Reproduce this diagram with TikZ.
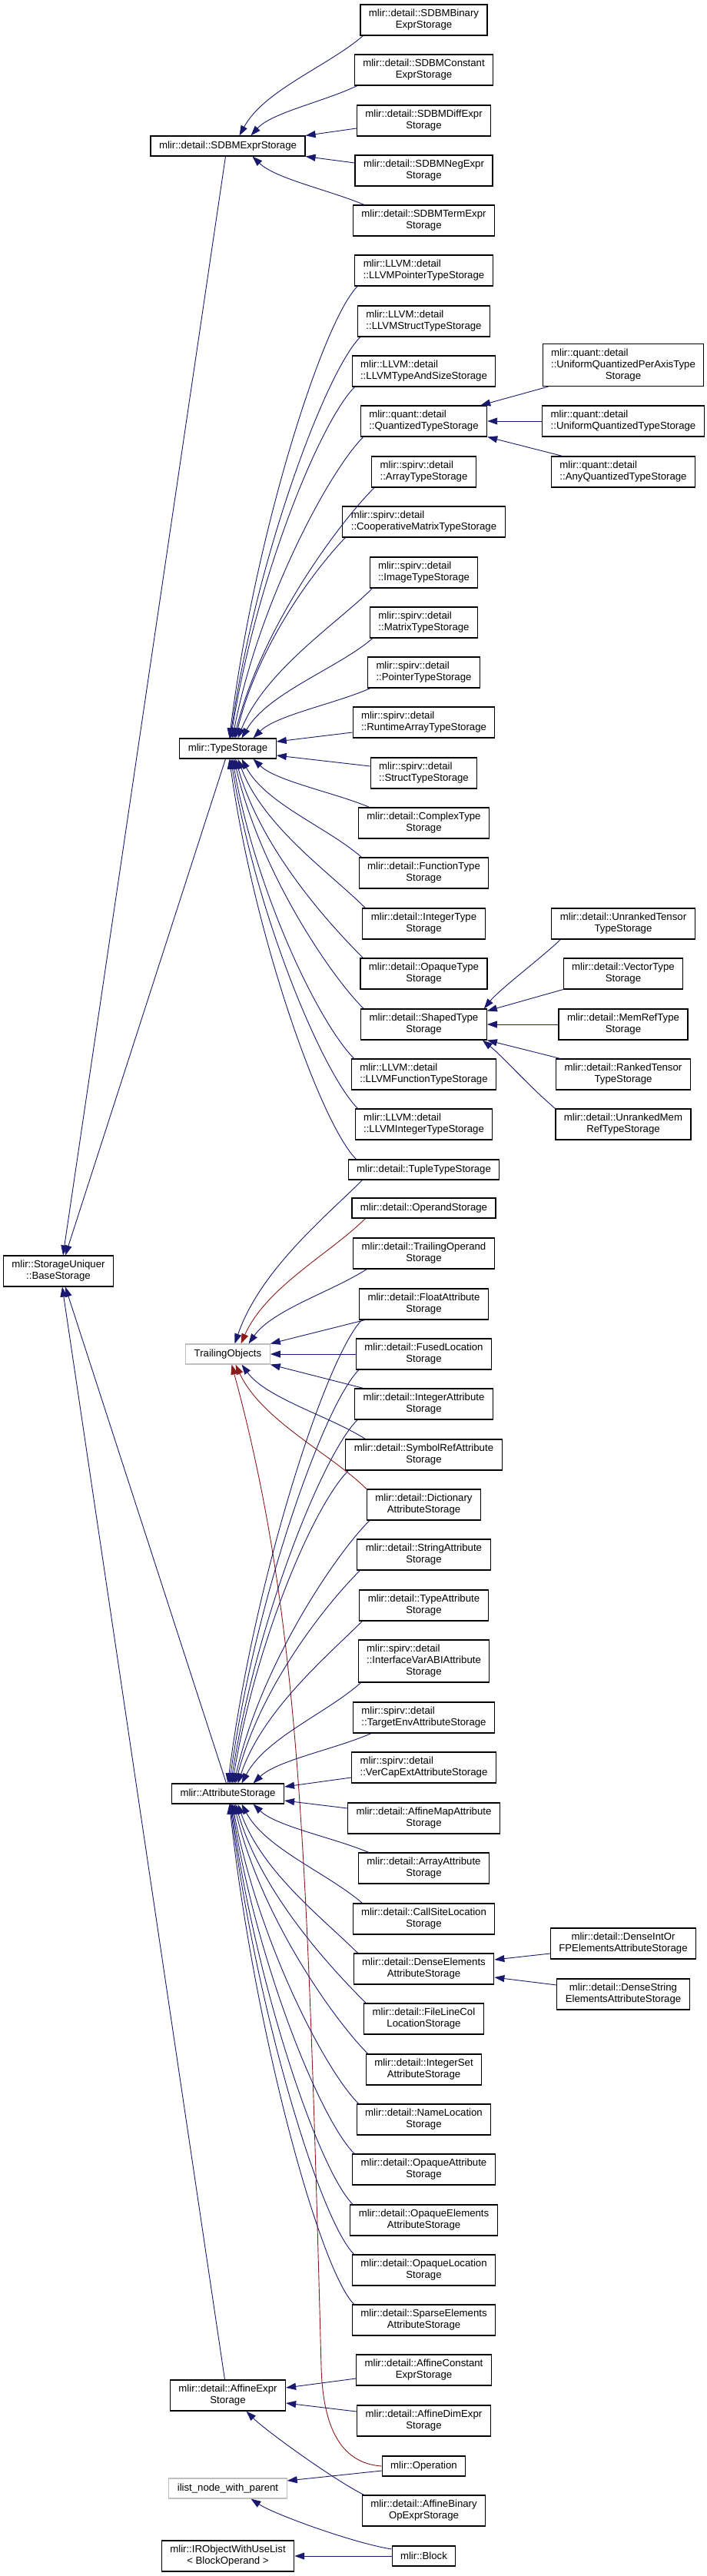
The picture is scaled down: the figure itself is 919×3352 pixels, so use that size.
\documentclass[tikz,border=0pt]{standalone}
\usepackage{fontspec}
\setmainfont{Liberation Sans}
\usepackage{calc}
\usetikzlibrary{arrows.meta}
\definecolor{edgeblue}{HTML}{191970}
\definecolor{edgered}{HTML}{8B1A1A}
\definecolor{extgray}{HTML}{BFBFBF}
\begin{document}
\begin{tikzpicture}[x=1pt,y=-1pt,
  nbox/.style={draw=black, fill=white, line width=1.1pt, inner xsep=11pt, inner ysep=3pt,
    font=\fontsize{13.2}{15}\selectfont, align=center},
  nb1/.style={nbox, minimum height=26pt},
  nb2/.style={nbox, minimum height=40pt},
  nb3/.style={nbox, minimum height=55pt},
  lft/.style={align=left},
  extbox/.style={draw=extgray},
  inh/.style={draw=edgeblue, line width=0.9pt, -{Triangle[length=13pt,width=9pt]}},
  priv/.style={inh, draw=edgered}]
\fill[white] (0,0) rectangle (919,3352);
\useasboundingbox (0,0) rectangle (919,3352);

% rank 0
\node[nb2] (base) at (76,1654) {mlir::StorageUniquer\\::BaseStorage};
% rank 1
\node[nb1] (sdbm) at (296.5,190) {mlir::detail::SDBMExprStorage};
\node[nb1] (ts) at (296.5,974) {mlir::TypeStorage};
\node[nb1,extbox] (tro) at (296.5,1762) {TrailingObjects};
\node[nb1] (as) at (296.5,2334) {mlir::AttributeStorage};
\node[nb2] (aes) at (296.5,3117) {mlir::detail::AffineExpr\\Storage};
\node[nb1,extbox] (ilist) at (296.5,3238) {ilist\_node\_with\_parent};
\node[nb2] (iro) at (296.5,3326) {mlir::IRObjectWithUseList\\< BlockOperand >};
% rank 2
\node[nb2] (sdbmbin) at (551.5,26) {mlir::detail::SDBMBinary\\ExprStorage};
\node[nb2] (sdbmconst) at (551.5,91) {mlir::detail::SDBMConstant\\ExprStorage};
\node[nb2] (sdbmdiff) at (551.5,157) {mlir::detail::SDBMDiffExpr\\Storage};
\node[nb2] (sdbmneg) at (551.5,222) {mlir::detail::SDBMNegExpr\\Storage};
\node[nb2] (sdbmterm) at (551.5,287) {mlir::detail::SDBMTermExpr\\Storage};
\node[nb2,lft] (llvmptr) at (551.5,352) {mlir::LLVM::detail\\::LLVMPointerTypeStorage};
\node[nb2,lft] (llvmstruct) at (551.5,418) {mlir::LLVM::detail\\::LLVMStructTypeStorage};
\node[nb2,lft] (llvmsize) at (551.5,483) {mlir::LLVM::detail\\::LLVMTypeAndSizeStorage};
\node[nb2,lft] (quant) at (551.5,548) {mlir::quant::detail\\::QuantizedTypeStorage};
\node[nb2,lft] (sarray) at (551.5,614) {mlir::spirv::detail\\::ArrayTypeStorage};
\node[nb2,lft] (scoop) at (551.5,679) {mlir::spirv::detail\\::CooperativeMatrixTypeStorage};
\node[nb2,lft] (simage) at (551.5,745) {mlir::spirv::detail\\::ImageTypeStorage};
\node[nb2,lft] (smatrix) at (551.5,810) {mlir::spirv::detail\\::MatrixTypeStorage};
\node[nb2,lft] (sptr) at (551.5,875) {mlir::spirv::detail\\::PointerTypeStorage};
\node[nb2,lft] (sruntime) at (551.5,940) {mlir::spirv::detail\\::RuntimeArrayTypeStorage};
\node[nb2,lft] (sstruct) at (551.5,1006) {mlir::spirv::detail\\::StructTypeStorage};
\node[nb2] (complex) at (551.5,1071) {mlir::detail::ComplexType\\Storage};
\node[nb2] (func) at (551.5,1136) {mlir::detail::FunctionType\\Storage};
\node[nb2] (intty) at (551.5,1202) {mlir::detail::IntegerType\\Storage};
\node[nb2] (opaquety) at (551.5,1267) {mlir::detail::OpaqueType\\Storage};
\node[nb2] (shaped) at (551.5,1333) {mlir::detail::ShapedType\\Storage};
\node[nb2,lft] (llvmfunc) at (551.5,1398) {mlir::LLVM::detail\\::LLVMFunctionTypeStorage};
\node[nb2,lft] (llvmint) at (551.5,1463) {mlir::LLVM::detail\\::LLVMIntegerTypeStorage};
\node[nb1] (tuple) at (551.5,1522) {mlir::detail::TupleTypeStorage};
\node[nb1] (operand) at (551.5,1572) {mlir::detail::OperandStorage};
\node[nb2] (trailop) at (551.5,1631) {mlir::detail::TrailingOperand\\Storage};
\node[nb2] (floatattr) at (551.5,1697) {mlir::detail::FloatAttribute\\Storage};
\node[nb2] (fused) at (551.5,1762) {mlir::detail::FusedLocation\\Storage};
\node[nb2] (intattr) at (551.5,1827) {mlir::detail::IntegerAttribute\\Storage};
\node[nb2] (symref) at (551.5,1893) {mlir::detail::SymbolRefAttribute\\Storage};
\node[nb2] (dict) at (551.5,1958) {mlir::detail::Dictionary\\AttributeStorage};
\node[nb2] (strattr) at (551.5,2023) {mlir::detail::StringAttribute\\Storage};
\node[nb2] (typeattr) at (551.5,2089) {mlir::detail::TypeAttribute\\Storage};
\node[nb3] (ivabi) at (551.5,2161.5) {\makebox[\widthof{::InterfaceVarABIAttribute}][l]{mlir::spirv::detail}\\::InterfaceVarABIAttribute\\Storage};
\node[nb2,lft] (targetenv) at (551.5,2235) {mlir::spirv::detail\\::TargetEnvAttributeStorage};
\node[nb2,lft] (vercap) at (551.5,2300) {mlir::spirv::detail\\::VerCapExtAttributeStorage};
\node[nb2] (affmap) at (551.5,2366) {mlir::detail::AffineMapAttribute\\Storage};
\node[nb2] (arrattr) at (551.5,2431) {mlir::detail::ArrayAttribute\\Storage};
\node[nb2] (callsite) at (551.5,2497) {mlir::detail::CallSiteLocation\\Storage};
\node[nb2] (dense) at (551.5,2562) {mlir::detail::DenseElements\\AttributeStorage};
\node[nb2] (filelc) at (551.5,2627) {mlir::detail::FileLineCol\\LocationStorage};
\node[nb2] (intset) at (551.5,2693) {mlir::detail::IntegerSet\\AttributeStorage};
\node[nb2] (nameloc) at (551.5,2758) {mlir::detail::NameLocation\\Storage};
\node[nb2] (opqattr) at (551.5,2823) {mlir::detail::OpaqueAttribute\\Storage};
\node[nb2] (opqelem) at (551.5,2889) {mlir::detail::OpaqueElements\\AttributeStorage};
\node[nb2] (opqloc) at (551.5,2954) {mlir::detail::OpaqueLocation\\Storage};
\node[nb2] (sparse) at (551.5,3019) {mlir::detail::SparseElements\\AttributeStorage};
\node[nb2] (affconst) at (551.5,3084) {mlir::detail::AffineConstant\\ExprStorage};
\node[nb2] (affdim) at (551.5,3150) {mlir::detail::AffineDimExpr\\Storage};
\node[nb1] (operation) at (551.5,3209) {mlir::Operation};
\node[nb2] (affbin) at (551.5,3267) {mlir::detail::AffineBinary\\OpExprStorage};
\node[nb1] (block) at (551.5,3326) {mlir::Block};
% rank 3
\node[nb3] (uqpa) at (811,475) {\makebox[\widthof{::UniformQuantizedPerAxisType}][l]{mlir::quant::detail}\\::UniformQuantizedPerAxisType\\Storage};
\node[nb2,lft] (uq) at (811,548) {mlir::quant::detail\\::UniformQuantizedTypeStorage};
\node[nb2,lft] (anyq) at (811,614) {mlir::quant::detail\\::AnyQuantizedTypeStorage};
\node[nb2] (unrt) at (811,1202) {mlir::detail::UnrankedTensor\\TypeStorage};
\node[nb2] (vect) at (811,1267) {mlir::detail::VectorType\\Storage};
\node[nb2] (memref) at (811,1333) {mlir::detail::MemRefType\\Storage};
\node[nb2] (rankt) at (811,1398) {mlir::detail::RankedTensor\\TypeStorage};
\node[nb2] (unrm) at (811,1463) {mlir::detail::UnrankedMem\\RefTypeStorage};
\node[nb2] (denseint) at (811,2529) {mlir::detail::DenseIntOr\\FPElementsAttributeStorage};
\node[nb2] (densestr) at (811,2595) {mlir::detail::DenseString\\ElementsAttributeStorage};

% ---- edges to SDBMExprStorage
\draw[inh] ([xshift=4pt]sdbmbin.south west) .. controls +(-45,39) and +(32,-59) .. ([xshift=15pt]sdbm.north);
\draw[inh] ([xshift=4pt]sdbmconst.south west) .. controls +(-41,20) and +(27,-30) .. ([xshift=30pt]sdbm.north);
\draw[inh] ([yshift=-10pt]sdbmdiff.west) -- (sdbm.north east);
\draw[inh] ([yshift=10pt]sdbmneg.west) -- (sdbm.south east);
\draw[inh] ([xshift=15pt]sdbmterm.north west) .. controls +(-45,-19) and +(30,29) .. ([xshift=32pt]sdbm.south);

% ---- edges to TypeStorage
\draw[inh] ([xshift=4pt]llvmptr.south west) .. controls +(-45,45) and +(33,-265) .. ([xshift=2pt]ts.north);
\draw[inh] ([xshift=4pt]llvmstruct.south west) .. controls +(-45,45) and +(34,-235) .. ([xshift=3pt]ts.north);
\draw[inh] ([xshift=4pt]llvmsize.south west) .. controls +(-45,45) and +(32,-206) .. ([xshift=4pt]ts.north);
\draw[inh] ([xshift=4pt]quant.south west) .. controls +(-45,45) and +(34,-176) .. ([xshift=6pt]ts.north);
\draw[inh] ([xshift=4pt]sarray.south west) .. controls +(-45,45) and +(37,-147) .. ([xshift=8pt]ts.north);
\draw[inh] ([xshift=4pt]scoop.south west) .. controls +(-43,45) and +(28,-118) .. ([xshift=10pt]ts.north);
\draw[inh] ([xshift=4pt]simage.south west) .. controls +(-45,45) and +(35,-88) .. ([xshift=13pt]ts.north);
\draw[inh] ([xshift=4pt]smatrix.south west) .. controls +(-45,39) and +(34,-59) .. ([xshift=18pt]ts.north);
\draw[inh] ([xshift=4pt]sptr.south west) .. controls +(-45,20) and +(30,-30) .. ([xshift=33pt]ts.north);
\draw[inh] ([yshift=-13pt]sruntime.west) -- ([yshift=9pt]ts.east);
\draw[inh] ([yshift=9pt]sstruct.west) -- ([yshift=-9pt]ts.east);
\draw[inh] ([xshift=15pt]complex.north west) .. controls +(-45,-19) and +(30,29) .. ([xshift=33pt]ts.south);
\draw[inh] ([xshift=4pt]func.north west) .. controls +(-45,-39) and +(31,58) .. ([xshift=18pt]ts.south);
\draw[inh] ([xshift=4pt]intty.north west) .. controls +(-45,-45) and +(33,88) .. ([xshift=13pt]ts.south);
\draw[inh] ([xshift=4pt]opaquety.north west) .. controls +(-45,-45) and +(33,117) .. ([xshift=10pt]ts.south);
\draw[inh] ([xshift=4pt]shaped.north west) .. controls +(-45,-45) and +(34,146) .. ([xshift=8pt]ts.south);
\draw[inh] ([xshift=4pt]llvmfunc.north west) .. controls +(-45,-45) and +(31,176) .. ([xshift=6pt]ts.south);
\draw[inh] ([xshift=4pt]llvmint.north west) .. controls +(-45,-45) and +(33,205) .. ([xshift=4pt]ts.south);
\draw[inh] ([xshift=11pt]tuple.north west) .. controls +(-45,-45) and +(33,235) .. ([xshift=2pt]ts.south);

% ---- QuantizedTypeStorage
\draw[inh] ([xshift=8pt]uqpa.south west) -- ([xshift=-9pt]quant.north east);
\draw[inh] (uq.west) -- (quant.east);
\draw[inh] ([xshift=15pt]anyq.north west) -- (quant.south east);

% ---- ShapedTypeStorage
\draw[inh] ([xshift=12pt]unrt.south west) .. controls +(-20,20) and +(20,-25) .. ([xshift=-4pt]shaped.north east);
\draw[inh] (vect.south west) -- ([yshift=-3pt]shaped.north east);
\draw[inh] (memref.west) -- (shaped.east);
\draw[inh] ([xshift=6pt]rankt.north west) -- (shaped.south east);
\draw[inh] (unrm.north west) .. controls +(-35,-30) and +(25,20) .. ([xshift=-6pt]shaped.south east);

% ---- TrailingObjects
\draw[inh] ([xshift=19pt]tuple.south west) .. controls +(-45,45) and +(33,-96) .. ([xshift=9pt]tro.north);
\draw[priv] ([xshift=18pt]operand.south west) .. controls +(-45,45) and +(33,-74) .. ([xshift=17pt]tro.north);
\draw[inh] ([xshift=18pt]trailop.south west) .. controls +(-45,29) and +(31,-44) .. ([xshift=27pt]tro.north);
\draw[inh] ([xshift=8pt]floatattr.south west) -- (tro.north east);
\draw[inh] (fused.west) -- (tro.east);
\draw[inh] ([xshift=12pt]intattr.north west) -- (tro.south east);
\draw[inh] ([xshift=26pt]symref.north west) .. controls +(-45,-29) and +(32,44) .. ([xshift=18pt]tro.south);
\draw[priv] (dict.north west) .. controls +(-45,-45) and +(34,73) .. ([xshift=10pt]tro.south);
\draw[priv] (operation.west) .. controls +(-58,-4) and +(2,70) .. (418,3080) .. controls +(-18,-680) and +(88,325) .. ([xshift=5pt]tro.south);

% ---- AttributeStorage
\draw[inh] ([xshift=4pt]floatattr.south west) .. controls +(-45,45) and +(35,-272) .. (as.north);
\draw[inh] ([xshift=4pt]fused.south west) .. controls +(-45,45) and +(34,-243) .. ([xshift=2pt]as.north);
\draw[inh] ([xshift=4pt]intattr.south west) .. controls +(-45,45) and +(33,-213) .. ([xshift=4pt]as.north);
\draw[inh] ([xshift=4pt]symref.south west) .. controls +(-45,45) and +(30,-184) .. ([xshift=6pt]as.north);
\draw[inh] ([xshift=4pt]dict.south west) .. controls +(-45,45) and +(35,-154) .. ([xshift=8pt]as.north);
\draw[inh] ([xshift=4pt]strattr.south west) .. controls +(-45,45) and +(32,-125) .. ([xshift=10pt]as.north);
\draw[inh] ([xshift=4pt]typeattr.south west) .. controls +(-45,45) and +(32,-95) .. ([xshift=13pt]as.north);
\draw[inh] ([xshift=4pt]ivabi.south west) .. controls +(-45,40) and +(31,-59) .. ([xshift=18pt]as.north);
\draw[inh] ([xshift=24pt]targetenv.south west) .. controls +(-45,20) and +(31,-30) .. ([xshift=33pt]as.north);
\draw[inh] ([yshift=-13pt]vercap.west) -- ([yshift=9pt]as.east);
\draw[inh] ([yshift=13pt]affmap.west) -- ([yshift=-9pt]as.east);
\draw[inh] ([xshift=14pt]arrattr.north west) .. controls +(-45,-19) and +(30,29) .. ([xshift=33pt]as.south);
\draw[inh] ([xshift=13pt]callsite.north west) .. controls +(-45,-39) and +(31,58) .. ([xshift=18pt]as.south);
\draw[inh] ([xshift=6pt]dense.north west) .. controls +(-45,-45) and +(31,88) .. ([xshift=13pt]as.south);
\draw[inh] ([xshift=3pt]filelc.north west) .. controls +(-45,-45) and +(34,117) .. ([xshift=10pt]as.south);
\draw[inh] ([xshift=3pt]intset.north west) .. controls +(-45,-45) and +(35,146) .. ([xshift=8pt]as.south);
\draw[inh] ([xshift=3pt]nameloc.north west) .. controls +(-45,-45) and +(33,176) .. ([xshift=6pt]as.south);
\draw[inh] ([xshift=3pt]opqattr.north west) .. controls +(-45,-45) and +(32,205) .. ([xshift=5pt]as.south);
\draw[inh] ([xshift=4pt]opqelem.north west) .. controls +(-45,-45) and +(32,234) .. ([xshift=4pt]as.south);
\draw[inh] ([xshift=3pt]opqloc.north west) .. controls +(-45,-45) and +(33,264) .. ([xshift=3pt]as.south);
\draw[inh] ([xshift=3pt]sparse.north west) .. controls +(-45,-45) and +(32,293) .. ([xshift=2pt]as.south);

% ---- DenseElementsAttributeStorage
\draw[inh] ([yshift=-13pt]denseint.west) -- ([yshift=12pt]dense.east);
\draw[inh] ([yshift=12pt]densestr.west) -- ([yshift=-11pt]dense.east);

% ---- AffineExprStorage
\draw[inh] ([yshift=-11pt]affconst.west) -- ([yshift=10pt]aes.east);
\draw[inh] ([yshift=12pt]affdim.west) -- ([yshift=-10pt]aes.east);
\draw[inh] ([xshift=3pt]affbin.north west) .. controls +(-40,-20) and +(25,25) .. ([xshift=24pt]aes.south);

% ---- ilist / IRObject
\draw[inh] ([yshift=-6pt]operation.west) -- ([yshift=10pt]ilist.east);
\draw[inh] ([yshift=9pt]block.west) .. controls +(-50,-8) and +(30,20) .. ([xshift=30pt]ilist.south);
\draw[inh] (block.west) -- (iro.east);

% ---- BaseStorage
\draw[inh] ([xshift=-3pt]sdbm.south) -- ([xshift=6pt]base.north);
\draw[inh] ([xshift=-3pt]ts.south) -- ([xshift=9pt]base.north);
\draw[inh] ([xshift=-2pt]as.north) -- ([xshift=9pt]base.south);
\draw[inh] ([xshift=-4pt]aes.north) -- ([xshift=5pt]base.south);
\end{tikzpicture}
\end{document}
